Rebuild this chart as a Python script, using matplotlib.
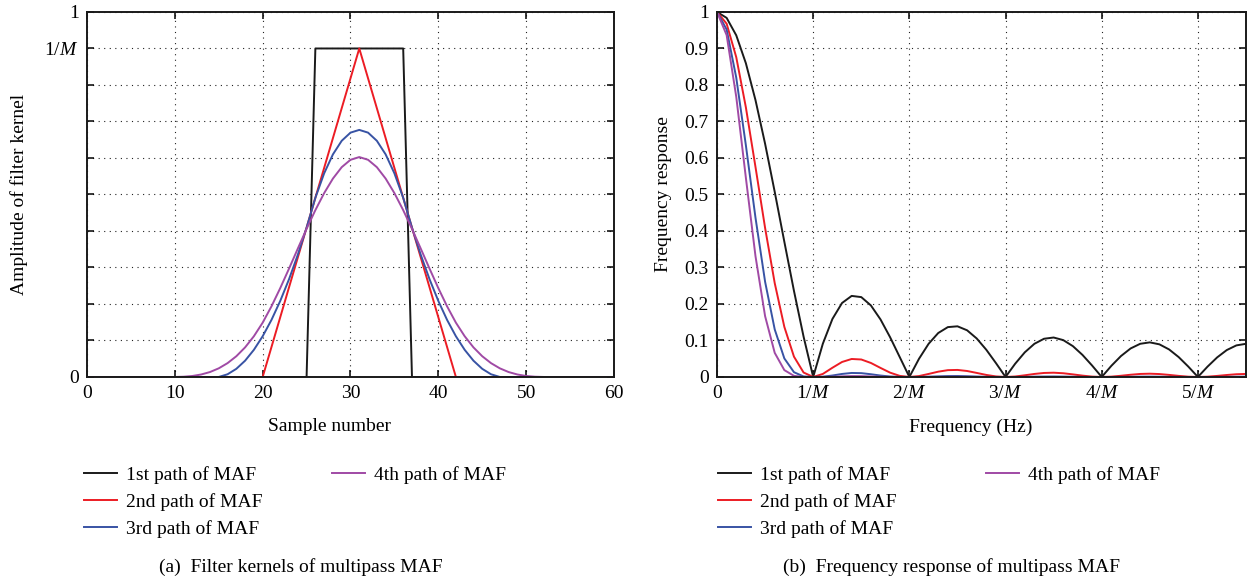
import numpy as np
import matplotlib
matplotlib.use("Agg")
import matplotlib.pyplot as plt
from matplotlib.lines import Line2D

plt.rcParams['font.family'] = 'Liberation Serif'
plt.rcParams['mathtext.fontset'] = 'custom'
plt.rcParams['mathtext.rm'] = 'Liberation Serif'
plt.rcParams['mathtext.it'] = 'Liberation Serif:italic'

# ---- DATA ----
# (a) filter kernels, y in axis units where 1/M sits at 0.9
samples = np.arange(61)
k1_start, k1 = 26, [0.9] * 11
k2_start, k2 = 21, [0.0818, 0.1636, 0.2455, 0.3273, 0.4091, 0.4909, 0.5727, 0.6545, 0.7364, 0.8182,
                    0.9000,
                    0.8182, 0.7364, 0.6545, 0.5727, 0.4909, 0.4091, 0.3273, 0.2455, 0.1636, 0.0818]
k3_start, k3 = 16, [0.0074, 0.0223, 0.0446, 0.0744, 0.1116, 0.1562, 0.2083, 0.2678, 0.3347, 0.4091,
                    0.4909, 0.5579, 0.6099, 0.6471, 0.6694, 0.6769, 0.6694, 0.6471, 0.6099, 0.5579,
                    0.4909, 0.4091, 0.3347, 0.2678, 0.2083, 0.1562, 0.1116, 0.0744, 0.0446, 0.0223,
                    0.0074]
k4_start, k4 = 11, [0.0007, 0.0027, 0.0068, 0.0135, 0.0237, 0.0379, 0.0568, 0.0811, 0.1116, 0.1488,
                    0.1934, 0.2434, 0.2968, 0.3516, 0.4057, 0.4571, 0.5037, 0.5436, 0.5748, 0.5950,
                    0.6025,
                    0.5950, 0.5748, 0.5436, 0.5037, 0.4571, 0.4057, 0.3516, 0.2968, 0.2434, 0.1934,
                    0.1488, 0.1116, 0.0811, 0.0568, 0.0379, 0.0237, 0.0135, 0.0068, 0.0027, 0.0007]

# (b) frequency response, frequency in units of 1/M
freq = np.linspace(0, 5.5, 56)
h1 = [1.0, 0.9838, 0.9360, 0.8595, 0.7585, 0.6388, 0.5070, 0.3704, 0.2359, 0.1105,
      0.0, 0.0909, 0.1590, 0.2027, 0.2221, 0.2188, 0.1960, 0.1576, 0.1087, 0.0544,
      0.0, 0.0498, 0.0909, 0.1204, 0.1366, 0.1388, 0.1279, 0.1055, 0.0745, 0.0381,
      0.0, 0.0363, 0.0675, 0.0909, 0.1047, 0.1081, 0.1010, 0.0845, 0.0604, 0.0313,
      0.0, 0.0305, 0.0573, 0.0781, 0.0909, 0.0948, 0.0894, 0.0755, 0.0545, 0.0285,
      0.0, 0.0283, 0.0536, 0.0737, 0.0865, 0.0909]
h2 = [1.0, 0.9678, 0.8761, 0.7387, 0.5753, 0.4081, 0.2571, 0.1372, 0.0557, 0.0122,
      0.0, 0.0083, 0.0253, 0.0411, 0.0493, 0.0479, 0.0384, 0.0248, 0.0118, 0.0030,
      0.0, 0.0025, 0.0083, 0.0145, 0.0187, 0.0193, 0.0164, 0.0111, 0.0056, 0.0015,
      0.0, 0.0013, 0.0046, 0.0083, 0.0110, 0.0117, 0.0102, 0.0071, 0.0037, 0.0010,
      0.0, 0.0009, 0.0033, 0.0061, 0.0083, 0.0090, 0.0080, 0.0057, 0.0030, 0.0008,
      0.0, 0.0008, 0.0029, 0.0054, 0.0075, 0.0083]
h3 = [1.0, 0.9521, 0.8200, 0.6348, 0.4363, 0.2607, 0.1303, 0.0508, 0.0131, 0.0014,
      0.0, 0.0008, 0.0040, 0.0083, 0.0110, 0.0105, 0.0075, 0.0039, 0.0013, 0.0002,
      0.0, 0.0001, 0.0008, 0.0017, 0.0025, 0.0027, 0.0021, 0.0012, 0.0004, 0.0001,
      0.0, 0.0000, 0.0003, 0.0008, 0.0011, 0.0013, 0.0010, 0.0006, 0.0002, 0.0000,
      0.0, 0.0000, 0.0002, 0.0005, 0.0008, 0.0009, 0.0007, 0.0004, 0.0002, 0.0000,
      0.0, 0.0000, 0.0002, 0.0004, 0.0006, 0.0008]
h4 = [1.0, 0.9366, 0.7675, 0.5456, 0.3309, 0.1665, 0.0661, 0.0188, 0.0031, 0.0001,
      0.0, 0.0001, 0.0006, 0.0017, 0.0024, 0.0023, 0.0015, 0.0006, 0.0001, 0.0000,
      0.0, 0.0000, 0.0001, 0.0002, 0.0003, 0.0004, 0.0003, 0.0001, 0.0000, 0.0000,
      0.0, 0.0000, 0.0000, 0.0001, 0.0001, 0.0001, 0.0001, 0.0001, 0.0000, 0.0000,
      0.0, 0.0000, 0.0000, 0.0000, 0.0001, 0.0001, 0.0001, 0.0000, 0.0000, 0.0000,
      0.0, 0.0000, 0.0000, 0.0000, 0.0001, 0.0001]

labels = ['1st path of MAF', '2nd path of MAF', '3rd path of MAF', '4th path of MAF']
colors = ['#1a1a1a', '#ec1c24', '#3853a4', '#a04aa5']


def full_kernel(start, vals):
    y = np.zeros(len(samples))
    y[start:start + len(vals)] = vals
    return y


kernels = [full_kernel(k1_start, k1), full_kernel(k2_start, k2),
           full_kernel(k3_start, k3), full_kernel(k4_start, k4)]
responses = [h1, h2, h3, h4]

# ---- FIGURE ----
fig = plt.figure(figsize=(12.52, 5.84), dpi=100)
ax1 = fig.add_axes([0.0695, 0.3545, 0.4209, 0.625])
ax2 = fig.add_axes([0.5727, 0.3545, 0.4225, 0.625])

for y, c, lab in zip(kernels, colors, labels):
    ax1.plot(samples, y, color=c, lw=1.4, label=lab)
for y, c, lab in zip(responses, colors, labels):
    ax2.plot(freq, y, color=c, lw=1.4, label=lab)

FS = 14
# left axes
ax1.set_xlim(0, 60)
ax1.set_ylim(0, 1)
ax1.set_xticks(np.arange(0, 61, 10))
ax1.set_yticks(np.round(np.arange(0, 1.01, 0.1), 1))
ax1.set_yticklabels(['0', '', '', '', '', '', '', '', '', '1/$M$', '1'])
ax1.set_xlabel('Sample number', fontsize=FS)
ax1.set_ylabel('Amplitude of filter kernel', fontsize=FS)
ax1.xaxis.set_label_coords(0.46, -0.113)
ax1.yaxis.set_label_coords(-0.112, 0.5)

# right axes
ax2.set_xlim(0, 5.5)
ax2.set_ylim(0, 1)
ax2.set_xticks(np.arange(0, 6))
ax2.set_xticklabels(['0', '1/$M$', '2/$M$', '3/$M$', '4/$M$', '5/$M$'])
ax2.set_yticks(np.round(np.arange(0, 1.01, 0.1), 1))
ax2.set_yticklabels(['0', '0.1', '0.2', '0.3', '0.4', '0.5', '0.6', '0.7', '0.8', '0.9', '1'])
ax2.set_xlabel('Frequency (Hz)', fontsize=FS)
ax2.set_ylabel('Frequency response', fontsize=FS)
ax2.xaxis.set_label_coords(0.48, -0.113)
ax2.yaxis.set_label_coords(-0.085, 0.5)

for ax, x0, colsp in ((ax1, -0.006, 3.6), (ax2, 0.002, 4.6)):
    ax.grid(True, color='#222222', linestyle=(0, (1, 4)), linewidth=0.8)
    ax.tick_params(direction='in', top=True, right=True, length=5, width=1.1,
                   labelsize=FS, pad=6)
    for s in ax.spines.values():
        s.set_linewidth(1.4)
        s.set_color('#1a1a1a')

    handles, labs = ax.get_legend_handles_labels()
    blank = Line2D([], [], color='none')
    ax.legend(handles + [blank, blank], labs + [' ', ' '], ncol=2,
              loc='upper left', bbox_to_anchor=(x0, -0.245),
              borderaxespad=0, borderpad=0,
              frameon=False, fontsize=FS, handlelength=1.7,
              handletextpad=0.45, columnspacing=colsp, labelspacing=0.45)

fig.text(0.24, 0.029, '(a)  Filter kernels of multipass MAF', ha='center', va='center', fontsize=FS)
fig.text(0.76, 0.029, '(b)  Frequency response of multipass MAF', ha='center', va='center', fontsize=FS)

fig.savefig('out.png', dpi=100)
